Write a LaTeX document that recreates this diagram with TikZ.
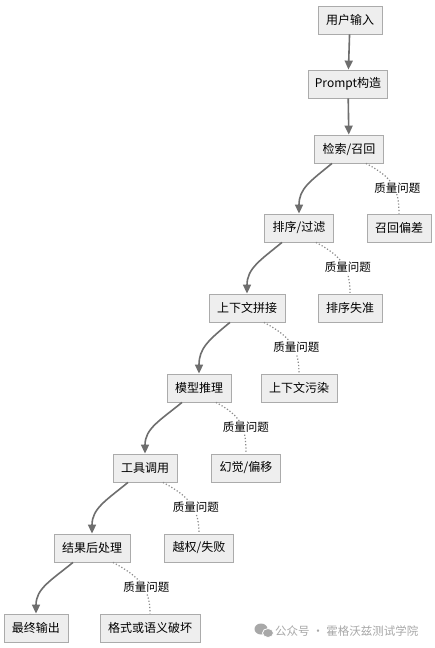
\documentclass[tikz,border=0pt]{standalone}
\usepackage{fontspec}
\setmainfont{Noto Sans CJK SC}
\usetikzlibrary{arrows.meta}
\definecolor{boxfill}{HTML}{EEEEEE}
\definecolor{boxline}{HTML}{ABABAB}
\definecolor{flowline}{HTML}{6E6E6E}
\definecolor{riskline}{HTML}{8A8A8A}
\definecolor{markgray}{HTML}{A8A8A8}
\tikzset{
  stage/.style={draw=boxline, fill=boxfill, line width=0.8pt, minimum height=28pt, inner xsep=8pt, font=\fontsize{12}{14}\selectfont},
  flow/.style={draw=flowline, line width=1.6pt, -{Triangle[length=9pt,width=8pt]}},
  risk/.style={draw=riskline, line width=1.2pt, dotted},
  issue/.style={fill=white, inner sep=1pt, xshift=5pt, yshift=-4pt, font=\fontsize{11.5}{13}\selectfont},
}

\begin{document}
\begin{tikzpicture}[x=1pt, y=-1pt]
  \useasboundingbox[fill=white] (0,0) rectangle (434,648);

  % Main pipeline stages
  \node[stage] (input) at (350,20) {用户输入};
  \node[stage, inner xsep=6pt] (prompt) at (348,84) {Prompt构造};
  \node[stage] (retrieve) at (349,149) {检索/召回};
  \node[stage] (rank) at (299,228) {排序/过滤};
  \node[stage] (context) at (247,308) {上下文拼接};
  \node[stage] (infer) at (199,388) {模型推理};
  \node[stage] (tool) at (145,468) {工具调用};
  \node[stage] (post) at (92,548) {结果后处理};
  \node[stage] (output) at (36,628) {最终输出};

  % Failure outcomes
  \node[stage] (recallbias) at (399,228) {召回偏差};
  \node[stage] (rankerr) at (350,308) {排序失准};
  \node[stage] (pollute) at (299,388) {上下文污染};
  \node[stage] (halluc) at (246,468) {幻觉/偏移};
  \node[stage] (abuse) at (199,548) {越权/失败};
  \node[stage] (broken) at (150,628) {格式或语义破坏};

  % Straight arrows at the top
  \draw[flow] (input) -- (prompt);
  \draw[flow] (prompt) -- (retrieve);

  % Curved arrows down the pipeline
  \draw[flow] ([xshift=-17pt]retrieve.south) .. controls +(-22,18) and +(0,-25) .. (rank.north);
  \draw[flow] ([xshift=-17pt]rank.south) .. controls +(-22,18) and +(0,-25) .. (context.north);
  \draw[flow] ([xshift=-17pt]context.south) .. controls +(-22,18) and +(0,-25) .. (infer.north);
  \draw[flow] ([xshift=-17pt]infer.south) .. controls +(-22,18) and +(0,-25) .. (tool.north);
  \draw[flow] ([xshift=-17pt]tool.south) .. controls +(-22,18) and +(0,-25) .. (post.north);
  \draw[flow] ([xshift=-19pt]post.south) .. controls +(-22,18) and +(0,-25) .. (output.north);

  % Dotted quality-issue links
  \draw[risk] ([xshift=17pt]retrieve.south) .. controls +(26,14) and +(0,-26) .. node[issue] {质量问题} (recallbias.north);
  \draw[risk] ([xshift=17pt]rank.south) .. controls +(26,14) and +(0,-26) .. node[issue] {质量问题} (rankerr.north);
  \draw[risk] ([xshift=17pt]context.south) .. controls +(26,14) and +(0,-26) .. node[issue] {质量问题} (pollute.north);
  \draw[risk] ([xshift=17pt]infer.south) .. controls +(26,14) and +(0,-26) .. node[issue] {质量问题} (halluc.north);
  \draw[risk] ([xshift=18pt]tool.south) .. controls +(26,14) and +(0,-26) .. node[issue] {质量问题} (abuse.north);
  \draw[risk] ([xshift=21pt]post.south) .. controls +(26,14) and +(0,-26) .. node[issue] {质量问题} (broken.north);

  % Watermark
  \fill[markgray] (261,629) ellipse[x radius=6.5, y radius=5.5];
  \fill[markgray, draw=white, line width=0.8pt] (268,633) ellipse[x radius=5.5, y radius=4.5];
  \node[anchor=west, text=markgray, inner sep=0pt, font=\fontsize{11.5}{13}\selectfont] (mark) at (275,631) {公众号 · 霍格沃兹测试学院};
\end{tikzpicture}
\end{document}
